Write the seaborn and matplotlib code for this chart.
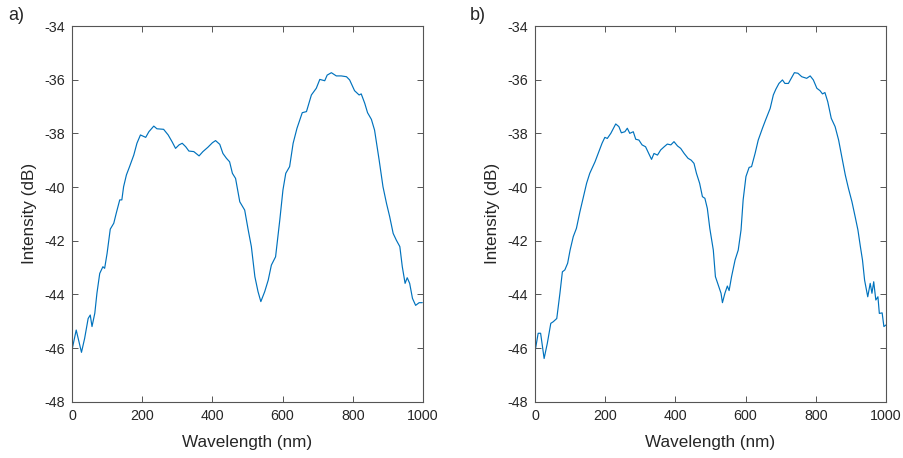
import numpy as np
import pandas as pd
import matplotlib
matplotlib.use("Agg")
import matplotlib.pyplot as plt
import seaborn as sns

# Panel a data (wavelength nm, intensity dB)
wl_a = [0, 12, 27, 36, 46, 52, 57, 65, 71, 79, 88, 93, 100, 109, 119, 126, 136, 142, 147, 155,
        164, 176, 185, 195, 210, 219, 233, 242, 261, 274, 285, 295, 305, 314, 324, 333, 347, 362,
        373, 387, 400, 409, 421, 430, 440, 449, 457, 466, 478, 492, 502, 511, 521, 530, 538, 549,
        559, 568, 580, 592, 601, 609, 620, 630, 641, 656, 668, 682, 696, 706, 720, 727, 739, 753,
        767, 782, 791, 805, 818, 824, 834, 842, 853, 862, 875, 886, 896, 905, 915, 924, 934, 941,
        949, 955, 962, 970, 979, 989, 998]
int_a = [-46.07, -45.33, -46.16, -45.64, -44.90, -44.77, -45.20, -44.70, -43.96, -43.22, -42.97,
         -43.03, -42.47, -41.57, -41.35, -40.98, -40.48, -40.48, -39.99, -39.55, -39.24, -38.81,
         -38.37, -38.06, -38.15, -37.94, -37.73, -37.83, -37.85, -38.06, -38.31, -38.56, -38.43,
         -38.37, -38.50, -38.66, -38.68, -38.84, -38.68, -38.52, -38.35, -38.27, -38.41, -38.75,
         -38.93, -39.06, -39.49, -39.68, -40.55, -40.86, -41.60, -42.22, -43.34, -43.90, -44.27,
         -43.90, -43.47, -42.91, -42.60, -41.23, -40.11, -39.49, -39.24, -38.37, -37.81, -37.23,
         -37.19, -36.57, -36.32, -35.99, -36.04, -35.83, -35.74, -35.86, -35.86, -35.89, -36.01,
         -36.41, -36.57, -36.53, -36.88, -37.23, -37.48, -37.88, -38.99, -39.99, -40.61, -41.10,
         -41.73, -41.98, -42.22, -42.97, -43.59, -43.38, -43.59, -44.15, -44.41, -44.31, -44.31]

# Panel b data
wl_b = [0, 9, 16, 26, 35, 45, 52, 62, 71, 78, 85, 93, 100, 109, 118, 128, 137, 147, 156, 171,
        182, 191, 199, 206, 216, 226, 230, 239, 246, 256, 263, 270, 280, 287, 296, 305, 315, 324,
        332, 339, 349, 358, 368, 377, 387, 396, 406, 415, 425, 436, 445, 453, 460, 469, 477, 484,
        491, 498, 508, 514, 522, 530, 534, 541, 548, 553, 560, 570, 579, 587, 593, 601, 610, 617,
        627, 636, 648, 657, 670, 679, 686, 695, 705, 712, 722, 730, 739, 749, 760, 774, 784, 793,
        803, 812, 819, 826, 834, 844, 855, 865, 874, 884, 893, 903, 912, 920, 927, 933, 939, 948,
        955, 960, 965, 971, 977, 981, 989, 994, 1000]
int_b = [-46.14, -45.45, -45.45, -46.39, -45.83, -45.08, -45.02, -44.90, -43.96, -43.16, -43.09,
         -42.84, -42.35, -41.85, -41.54, -40.92, -40.42, -39.86, -39.49, -39.06, -38.68, -38.37,
         -38.15, -38.19, -38.00, -37.75, -37.65, -37.75, -37.98, -37.94, -37.81, -38.00, -37.94,
         -38.22, -38.25, -38.43, -38.50, -38.75, -38.97, -38.75, -38.81, -38.62, -38.50, -38.40,
         -38.43, -38.31, -38.47, -38.56, -38.75, -38.93, -39.00, -39.12, -39.49, -39.86, -40.36,
         -40.42, -40.80, -41.54, -42.35, -43.34, -43.65, -43.96, -44.31, -43.96, -43.69, -43.86,
         -43.34, -42.72, -42.35, -41.60, -40.48, -39.61, -39.27, -39.24, -38.75, -38.25, -37.81,
         -37.50, -37.07, -36.57, -36.36, -36.14, -36.01, -36.14, -36.14, -35.95, -35.74, -35.76,
         -35.89, -35.95, -35.86, -36.01, -36.32, -36.41, -36.53, -36.48, -36.82, -37.44, -37.75,
         -38.25, -38.87, -39.55, -40.05, -40.55, -41.10, -41.60, -42.22, -42.72, -43.47, -44.09,
         -43.59, -43.96, -43.53, -44.21, -44.09, -44.71, -44.69, -45.20, -45.14]

panel_labels = ["a)", "b)"]
x_ticks = [0, 200, 400, 600, 800, 1000]
y_ticks = [-48, -46, -44, -42, -40, -38, -36, -34]

sns.set_theme(style="white")
plt.rcParams['font.family'] = ['Liberation Sans', 'DejaVu Sans']
plt.rcParams['axes.unicode_minus'] = False

fig = plt.figure(figsize=(9.04, 4.58), dpi=100)
ax_a = fig.add_axes([72 / 904, 1 - 401.7 / 458, 351 / 904, 375.7 / 458])
ax_b = fig.add_axes([535 / 904, 1 - 401.7 / 458, 351 / 904, 375.7 / 458])

line_color = "#0072BD"
edge = "#555555"
txt = "#262626"
for ax, wl, it in [(ax_a, wl_a, int_a), (ax_b, wl_b, int_b)]:
    df = pd.DataFrame({"Wavelength (nm)": wl, "Intensity (dB)": it})
    sns.lineplot(data=df, x="Wavelength (nm)", y="Intensity (dB)", ax=ax,
                 color=line_color, linewidth=0.85, estimator=None, sort=False)
    ax.set_xlim(0, 1000)
    ax.set_ylim(-48, -34)
    ax.set_xticks(x_ticks)
    ax.set_yticks(y_ticks)
    ax.set_xlabel("Wavelength (nm)", fontsize=12.3, color=txt, labelpad=9)
    ax.set_ylabel("Intensity (dB)", fontsize=12.3, color=txt, labelpad=5)
    ax.tick_params(direction="in", length=4, width=0.7, colors=edge, labelcolor=txt,
                   labelsize=10.3, top=True, right=True, bottom=True, left=True, pad=5)
    for s in ax.spines.values():
        s.set_visible(True)
        s.set_color(edge)
        s.set_linewidth(0.8)

fig.text(8 / 904, 1 - 16 / 458, panel_labels[0], fontsize=13, va="center", ha="left", color=txt)
fig.text(470 / 904, 1 - 16 / 458, panel_labels[1], fontsize=13, va="center", ha="left", color=txt)

fig.savefig("out.png", dpi=100)
